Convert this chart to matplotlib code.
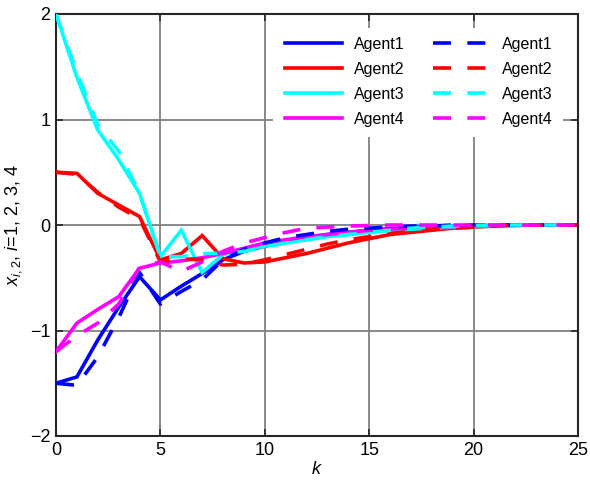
import matplotlib
matplotlib.use("Agg")
import matplotlib.pyplot as plt
from matplotlib.patches import Rectangle
import numpy as np

plt.rcParams['font.family'] = ['Liberation Sans', 'DejaVu Sans']
plt.rcParams['mathtext.fontset'] = 'custom'
plt.rcParams['mathtext.rm'] = 'Liberation Sans'
plt.rcParams['mathtext.it'] = 'Liberation Sans:italic'

k = np.arange(26)

agent_names = ["Agent1", "Agent2", "Agent3", "Agent4"]
agent_colors = ["#0000ff", "#ff0000", "#00ffff", "#ff00ff"]

# solid trajectories
solid_1 = [-1.5, -1.44, -1.09, -0.78, -0.49, -0.71, -0.58, -0.46, -0.33, -0.25, -0.2, -0.16, -0.12,
           -0.09, -0.07, -0.05, -0.035, -0.025, -0.02, -0.01, -0.008, -0.005, 0, 0, 0, 0]
solid_2 = [0.5, 0.49, 0.3, 0.19, 0.08, -0.33, -0.27, -0.1, -0.32, -0.36, -0.35, -0.31, -0.27,
           -0.22, -0.17, -0.13, -0.09, -0.07, -0.05, -0.03, -0.02, -0.01, -0.005, 0, 0, 0]
solid_3 = [2.0, 1.4, 0.9, 0.62, 0.3, -0.3, -0.05, -0.45, -0.28, -0.24, -0.2, -0.17, -0.14,
           -0.11, -0.09, -0.07, -0.05, -0.04, -0.03, -0.02, -0.015, -0.01, -0.005, 0, 0, 0]
solid_4 = [-1.2, -0.93, -0.8, -0.68, -0.41, -0.36, -0.34, -0.31, -0.27, -0.22, -0.17, -0.14, -0.11,
           -0.09, -0.07, -0.05, -0.04, -0.03, -0.02, -0.015, -0.01, -0.005, 0, 0, 0, 0]

# dashed trajectories
dashed_1 = [-1.5, -1.52, -1.25, -0.88, -0.45, -0.75, -0.63, -0.52, -0.33, -0.23, -0.17, -0.12, -0.09,
            -0.06, -0.04, -0.03, -0.02, -0.01, -0.01, 0, 0, 0, 0, 0, 0, 0]
dashed_2 = [0.5, 0.48, 0.31, 0.17, 0.06, -0.35, -0.32, -0.33, -0.38, -0.37, -0.33, -0.28, -0.23,
            -0.18, -0.14, -0.11, -0.08, -0.06, -0.04, -0.03, -0.02, -0.01, 0, 0, 0, 0]
dashed_3 = [2.0, 1.45, 0.95, 0.7, 0.3, -0.3, -0.3, -0.27, -0.27, -0.25, -0.21, -0.17, -0.14,
            -0.11, -0.09, -0.07, -0.05, -0.03, -0.02, -0.01, -0.005, 0, 0, 0, 0, 0]
dashed_4 = [-1.2, -1.05, -0.93, -0.75, -0.4, -0.35, -0.44, -0.35, -0.25, -0.17, -0.12, -0.07, -0.03,
            -0.02, -0.01, -0.005, 0, 0, 0, 0, 0, 0, 0, 0, 0, 0]

solid = [solid_1, solid_2, solid_3, solid_4]
dashed = [dashed_1, dashed_2, dashed_3, dashed_4]

x_ticks = [0, 5, 10, 15, 20, 25]
y_ticks = [-2, -1, 0, 1, 2]

fig = plt.figure(figsize=(5.9, 4.84), dpi=100)
ax = fig.add_axes([56 / 590, 48 / 484, 522 / 590, 422 / 484])

lw = 2.6
handles = []
for ys, c, n in zip(solid, agent_colors, agent_names):
    h, = ax.plot(k, ys, color=c, lw=lw, label=n, solid_joinstyle='miter', zorder=3)
    handles.append(h)
for ys, c, n in zip(dashed, agent_colors, agent_names):
    h, = ax.plot(k, ys, color=c, lw=lw, label=n, linestyle=(0, (5, 4.5)), zorder=3)
    handles.append(h)

ax.set_xlim(0, 25)
ax.set_ylim(-2, 2)
ax.set_xticks(x_ticks)
ax.set_yticks(y_ticks)
ax.set_yticklabels(["\u22122", "\u22121", "0", "1", "2"])
ax.grid(True, color="#808080", lw=1.3)
ax.set_axisbelow(True)
ax.tick_params(direction='in', top=True, right=True, labelsize=13, length=5,
               width=1.2, color="#262626", pad=4)
for s in ax.spines.values():
    s.set_color("#262626")
    s.set_linewidth(1.5)

ax.set_xlabel("$k$", fontsize=13, labelpad=2)
ax.set_ylabel("$x_{i,2}$, $i$=1, 2, 3, 4", fontsize=13, labelpad=4)

# white backing panel for the legend
ax.add_patch(Rectangle((0.4157, 0.7085), 0.5556, 0.2583, transform=ax.transAxes,
                       facecolor='white', edgecolor='none', zorder=2.5))

leg = ax.legend(handles=handles, ncol=2, loc='upper left',
                bbox_to_anchor=(0.4264, 0.961), borderaxespad=0,
                fontsize=11.5, frameon=False, handlelength=3.56, handletextpad=0.75,
                columnspacing=1.8, labelspacing=0.62)

fig.savefig("out.png", dpi=100)
